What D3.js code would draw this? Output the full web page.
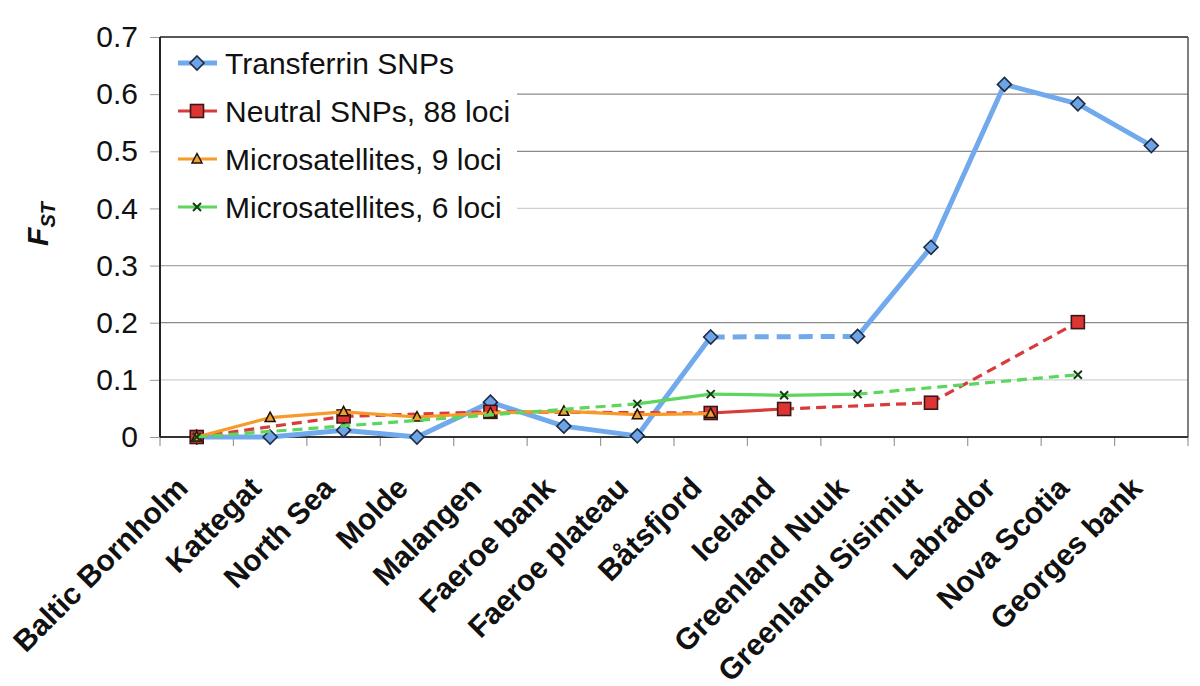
<!DOCTYPE html>
<html><head><meta charset="utf-8">
<script src="https://cdn.jsdelivr.net/npm/d3@7"></script>
<style>body{margin:0;background:#fff}svg{display:block;font-family:"Liberation Sans",Arial,sans-serif}</style>
</head><body>
<svg id="c" width="1200" height="686"></svg>
<script>
const categories = ["Baltic Bornholm","Kattegat","North Sea","Molde","Malangen","Faeroe bank","Faeroe plateau","Båtsfjord","Iceland","Greenland Nuuk","Greenland Sisimiut","Labrador","Nova Scotia","Georges bank"];
const transferrin = [0, 0, 0.012, 0, 0.061, 0.019, 0.002, 0.175, null, 0.176, 0.332, 0.617, 0.583, 0.510];
const neutral88   = [0, null, 0.036, null, 0.044, null, null, 0.042, 0.049, null, 0.060, null, 0.201, null];
const micro9      = [0, 0.034, 0.044, 0.035, 0.042, 0.045, 0.039, 0.041, null, null, null, null, null, null];
const micro6      = [0, null, null, null, null, null, 0.058, 0.075, 0.073, 0.075, null, null, 0.109, null];
const seriesNames = ["Transferrin SNPs","Neutral SNPs, 88 loci","Microsatellites, 9 loci","Microsatellites, 6 loci"];
const yTicks = [0, 0.1, 0.2, 0.3, 0.4, 0.5, 0.6, 0.7];

const svg = d3.select("#c");
const L = 160, R = 1188, T = 37, B = 437;
const x = d3.scaleBand().domain(categories).range([L, R]).padding(0);
const xc = c => x(c) + x.bandwidth() / 2;
const y = d3.scaleLinear().domain([0, 0.7]).range([B, T]);

// gridlines
const gridCol = {0.1:"#d0d0d0",0.2:"#8a8a8a",0.3:"#a8a8a8",0.4:"#d0d0d0",0.5:"#8a8a8a",0.6:"#8a8a8a",0.7:"#8a8a8a"};
svg.append("g").selectAll("line").data(yTicks.filter(d => d > 0)).join("line")
  .attr("x1", L).attr("x2", R).attr("y1", d => y(d)).attr("y2", d => y(d))
  .attr("stroke", d => gridCol[d]).attr("stroke-width", 1.2);

// y axis
const yAxis = d3.axisLeft(y).tickValues(yTicks).tickSize(10).tickPadding(12).tickFormat(d => d === 0 ? "0" : d3.format(".1f")(d));
const ya = svg.append("g").attr("transform", `translate(${L},0)`).call(yAxis);
ya.select(".domain").remove();
ya.selectAll(".tick line").attr("stroke", "#999");
ya.selectAll("text").attr("font-size", 30).attr("fill", "#111").attr("font-family", "Liberation Sans, Arial, sans-serif");

// x ticks at band boundaries
const bounds = categories.map(c => x(c)).concat([R]);
svg.append("g").selectAll("line").data(bounds).join("line")
  .attr("x1", d => d).attr("x2", d => d).attr("y1", B).attr("y2", B + 9)
  .attr("stroke", "#999").attr("stroke-width", 1.2);

// frame
svg.append("line").attr("x1", L).attr("x2", R).attr("y1", T).attr("y2", T).attr("stroke", "#333").attr("stroke-width", 1.5);
svg.append("line").attr("x1", R).attr("x2", R).attr("y1", T).attr("y2", B).attr("stroke", "#555").attr("stroke-width", 1.5);
svg.append("line").attr("x1", L).attr("x2", R).attr("y1", B).attr("y2", B).attr("stroke", "#333").attr("stroke-width", 2);
svg.append("line").attr("x1", L).attr("x2", L).attr("y1", T).attr("y2", B).attr("stroke", "#222").attr("stroke-width", 2);

// x labels
svg.append("g").selectAll("text").data(categories).join("text")
  .attr("transform", d => `translate(${xc(d) - 22},${B + 38}) rotate(-45)`)
  .attr("text-anchor", "end").attr("dy", "0.7em")
  .attr("font-size", 30).attr("font-weight", "bold").attr("fill", "#111")
  .text(d => d);

// y label
const yl = svg.append("text").attr("transform", "translate(48,224) rotate(-90)")
  .attr("text-anchor", "middle").attr("font-weight", "bold").attr("font-style", "italic").attr("fill", "#111");
yl.append("tspan").attr("font-size", 30).text("F");
yl.append("tspan").attr("font-size", 20).attr("dy", 7).text("ST");

const styles = [
  {data: transferrin, color: "#70a9ec", w: 5, marker: "diamond"},
  {data: neutral88, color: "#d93a3a", w: 3.2, marker: "square"},
  {data: micro9, color: "#f69a2a", w: 3.2, marker: "triangle"},
  {data: micro6, color: "#5cd65c", w: 3.2, marker: "x"}
];

const line = d3.line().x(d => xc(d.c)).y(d => y(d.v));
function drawMarker(g, type, cx, cy) {
  if (type === "diamond") {
    g.append("path").attr("d", `M${cx},${cy-7}L${cx+7},${cy}L${cx},${cy+7}L${cx-7},${cy}Z`)
      .attr("fill", "#6ea3e6").attr("stroke", "#1c2c44").attr("stroke-width", 1.6);
  } else if (type === "square") {
    g.append("rect").attr("x", cx-6.5).attr("y", cy-6.5).attr("width", 13).attr("height", 13)
      .attr("fill", "#dd3434").attr("stroke", "#3a1818").attr("stroke-width", 1.6);
  } else if (type === "triangle") {
    g.append("path").attr("d", `M${cx},${cy-5.5}L${cx+5},${cy+4}L${cx-5},${cy+4}Z`)
      .attr("fill", "#f0a030").attr("stroke", "#1a1206").attr("stroke-width", 1.5);
  } else {
    g.append("path").attr("d", `M${cx-4},${cy-4}L${cx+4},${cy+4}M${cx+4},${cy-4}L${cx-4},${cy+4}`)
      .attr("stroke", "#153d15").attr("stroke-width", 2);
  }
}

styles.forEach(s => {
  const g = svg.append("g");
  const pts = categories.map((c, i) => ({c, v: s.data[i], i})).filter(d => d.v !== null);
  for (let k = 0; k < pts.length - 1; k++) {
    const a = pts[k], b = pts[k+1];
    const p = g.append("path").attr("d", line([a, b])).attr("fill", "none")
      .attr("stroke", s.color).attr("stroke-width", s.w).attr("stroke-linecap", b.i === a.i + 1 ? "round" : "butt");
    if (b.i !== a.i + 1) p.attr("stroke-dasharray", s.marker === "diamond" ? "14,8" : "10,6");
  }
  pts.forEach(d => drawMarker(g, s.marker, xc(d.c), y(d.v)));
});

// legend
const lg = svg.append("g");
lg.append("rect").attr("x", L + 1).attr("y", T + 1).attr("width", 356).attr("height", 194).attr("fill", "#fff");
lg.append("line").attr("x1", L).attr("x2", L).attr("y1", T).attr("y2", T + 196).attr("stroke", "#222").attr("stroke-width", 2);
styles.forEach((s, i) => {
  const cy = 63 + i * 48;
  lg.append("line").attr("x1", 178).attr("x2", 217).attr("y1", cy).attr("y2", cy)
    .attr("stroke", s.color).attr("stroke-width", s.w);
  drawMarker(lg, s.marker, 197, cy);
  lg.append("text").attr("x", 225).attr("y", cy).attr("dy", "0.36em")
    .attr("font-size", 30).attr("fill", "#111").text(seriesNames[i]);
});
</script>
</body></html>
